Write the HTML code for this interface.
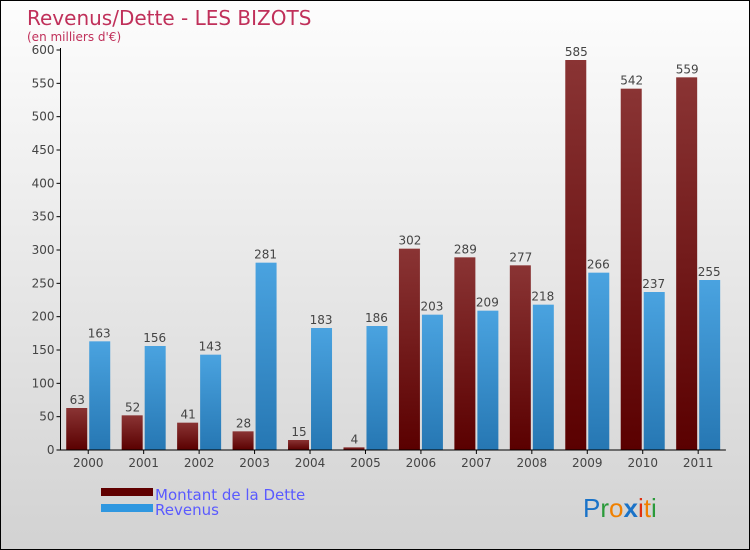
<!DOCTYPE html>
<html><head><meta charset="utf-8"><style>
body{margin:0}
#c{position:relative;width:748px;height:548px;border:1px solid #000;background:linear-gradient(#fdfdfd,#d2d2d2);font-family:"DejaVu Sans","Liberation Sans",sans-serif;overflow:hidden}
</style></head><body>
<div id="c">
<svg id="s" width="748" height="548" style="position:absolute;left:0;top:0">
<defs>
<linearGradient id="gd" x1="0" y1="0" x2="0" y2="1"><stop offset="0" stop-color="#8a3434"/><stop offset="1" stop-color="#5a0000"/></linearGradient>
<linearGradient id="gr" x1="0" y1="0" x2="0" y2="1"><stop offset="0" stop-color="#4aa3e0"/><stop offset="1" stop-color="#2677b3"/></linearGradient>
</defs>
<text x="26" y="24" font-size="20" fill="#c0305a">Revenus/Dette - LES BIZOTS</text>
<text x="26" y="40" font-size="12" fill="#c0305a">(en milliers d'€)</text>
<g id="plot"></g>
<rect x="100" y="487" width="52" height="8" fill="#600000"/>
<text x="154" y="499" font-size="15" fill="#5a5aff">Montant de la Dette</text>
<rect x="100" y="503" width="52" height="8" fill="#2f97e0"/>
<text x="154" y="514" font-size="15" fill="#5a5aff">Revenus</text>
<g font-size="26" font-family="Liberation Sans,sans-serif">
<text x="582" y="516"><tspan fill="#1a73c8">P</tspan><tspan fill="#2a9a3a">r</tspan><tspan fill="#f08000">o</tspan><tspan fill="#1a73c8" font-weight="bold">x</tspan><tspan fill="#e03010">i</tspan><tspan fill="#f08000">t</tspan><tspan fill="#2a9a3a">i</tspan></text>
</g>
</svg>
</div>
<script>
const years=["2000","2001","2002","2003","2004","2005","2006","2007","2008","2009","2010","2011"];
const dette=[63,52,41,28,15,4,302,289,277,585,542,559];
const revenus=[163,156,143,281,183,186,203,209,218,266,237,255];
const yTicks=[0,50,100,150,200,250,300,350,400,450,500,550,600];
const NS="http://www.w3.org/2000/svg";
const g=document.getElementById('plot');
const x0=59.5,step=55.45,yBase=449,yMax=600,yPix=400;
const y=v=>yBase-v/yMax*yPix;
const xc=i=>x0+step*i;
function mk(t,a){const e=document.createElementNS(NS,t);for(const k in a)e.setAttribute(k,a[k]);g.appendChild(e);return e;}
yTicks.forEach(v=>{
 const l=mk('line',{x1:x0-4,x2:x0,y1:y(v),y2:y(v),stroke:'#000'});
 
 
 const t=mk('text',{x:x0-6,y:y(v)+4,'text-anchor':'end','font-size':12,fill:'#444'});
 t.textContent=v;
 
 
});
years.forEach((yr,i)=>{
 const c=xc(i)+step/2;
 const hd=dette[i]/yMax*yPix, hr=revenus[i]/yMax*yPix;
 const b1=mk('rect',{x:c-22,y:y(dette[i]),width:21,height:hd,fill:'url(#gd)'});
 
 
 const b2=mk('rect',{x:c+1,y:y(revenus[i]),width:21,height:hr,fill:'url(#gr)'});
 
 
 const t1=mk('text',{x:c-11,y:y(dette[i])-4,'text-anchor':'middle','font-size':12,fill:'#444'});
 t1.textContent=dette[i];
 
 
 const t2=mk('text',{x:c+11,y:y(revenus[i])-4,'text-anchor':'middle','font-size':12,fill:'#444'});
 t2.textContent=revenus[i];
 
 
 const tk=mk('line',{x1:c,x2:c,y1:yBase,y2:yBase+4,stroke:'#000'});
 
 
 const xl=mk('text',{x:c,y:yBase+17,'text-anchor':'middle','font-size':12,fill:'#444'});
 xl.textContent=yr;
 
 
});
const ya=mk('line',{x1:x0,x2:x0,y1:y(600)-2,y2:yBase,stroke:'#000'});


const xa=mk('line',{x1:x0,x2:x0+step*12,y1:yBase,y2:yBase,stroke:'#000'});


</script>
</body></html>
